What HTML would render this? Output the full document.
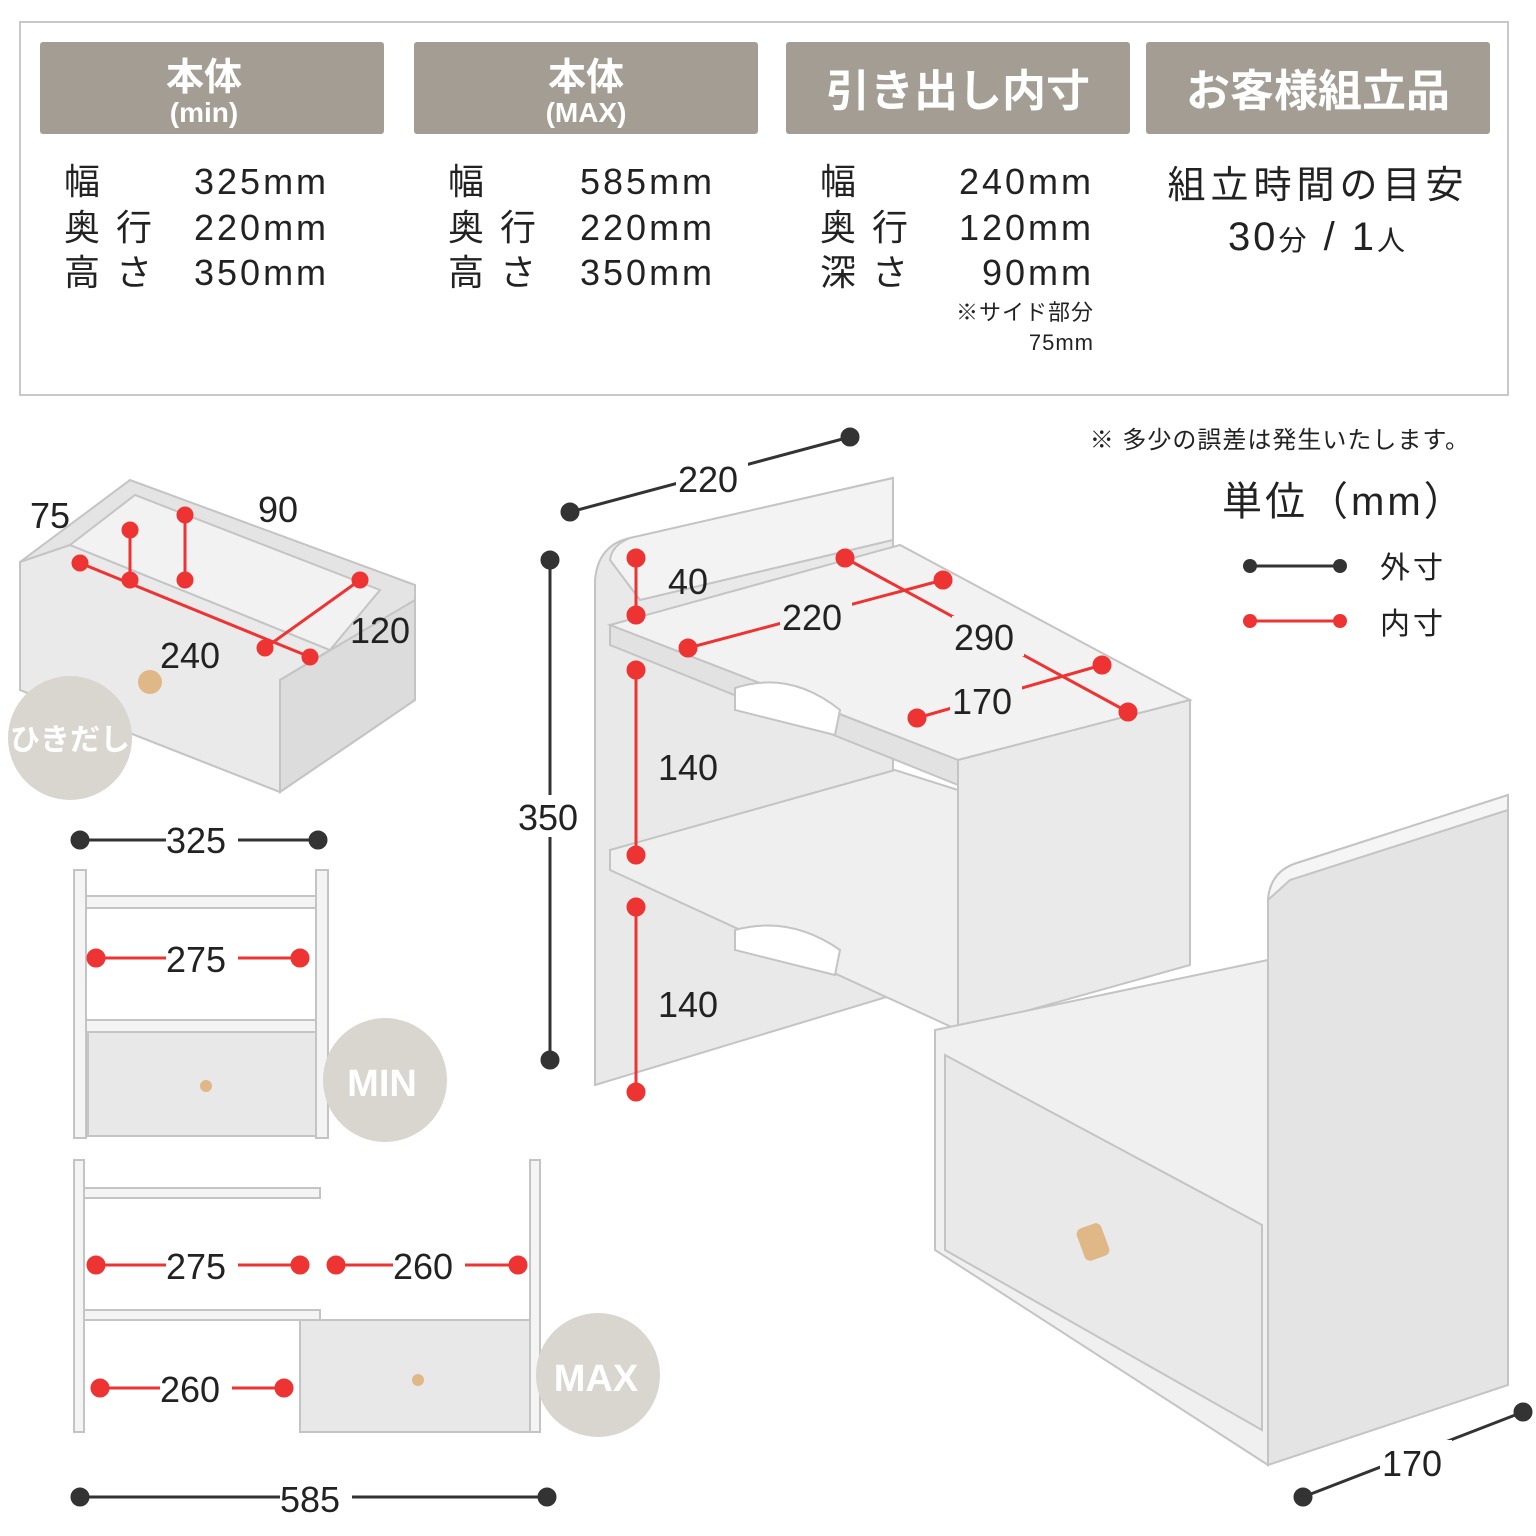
<!DOCTYPE html>
<html><head><meta charset="utf-8"><style>
body{margin:0;background:#fff}
svg{display:block}
text{font-family:"Liberation Sans","Noto Sans CJK JP",sans-serif}
</style></head><body>
<svg width="1536" height="1536" viewBox="0 0 1536 1536" xmlns="http://www.w3.org/2000/svg">
<rect x="20" y="22" width="1488" height="373" fill="#fff" stroke="#c8c8c8" stroke-width="2"/>
<g fill="#a39d94">
<rect x="40" y="42" width="344" height="92" rx="3"/>
<rect x="414" y="42" width="344" height="92" rx="3"/>
<rect x="786" y="42" width="344" height="92" rx="3"/>
<rect x="1146" y="42" width="344" height="92" rx="3"/>
</g>
<g fill="#fff" font-weight="bold" text-anchor="middle">
<text x="204" y="90" font-size="38">本体</text>
<text x="204" y="122" font-size="28">(min)</text>
<text x="586" y="90" font-size="38">本体</text>
<text x="586" y="122" font-size="28">(MAX)</text>
<text x="958" y="106" font-size="44">引き出し内寸</text>
<text x="1318" y="106" font-size="44">お客様組立品</text>
</g>
<g fill="#222" font-size="36" letter-spacing="3">
<text x="64" y="194">幅</text><text x="64" y="240">奥 行</text><text x="64" y="285">高 さ</text>
<text x="194" y="194">325mm</text><text x="194" y="240">220mm</text><text x="194" y="285">350mm</text>
<text x="448" y="194">幅</text><text x="448" y="240">奥 行</text><text x="448" y="285">高 さ</text>
<text x="580" y="194">585mm</text><text x="580" y="240">220mm</text><text x="580" y="285">350mm</text>
<text x="820" y="194">幅</text><text x="820" y="240">奥 行</text><text x="820" y="285">深 さ</text>
<text x="1094" y="194" text-anchor="end">240mm</text><text x="1094" y="240" text-anchor="end">120mm</text><text x="1094" y="285" text-anchor="end">90mm</text>
<text x="1094" y="320" text-anchor="end" font-size="22" letter-spacing="1">※サイド部分</text>
<text x="1094" y="350" text-anchor="end" font-size="22" letter-spacing="1">75mm</text>
<text x="1318" y="198" text-anchor="middle" font-size="38" letter-spacing="5">組立時間の目安</text>
<text x="1318" y="250" text-anchor="middle" font-size="40">30<tspan font-size="28">分</tspan> / 1<tspan font-size="28">人</tspan></text>
<text x="1470" y="448" text-anchor="end" font-size="24" letter-spacing="1">※ 多少の誤差は発生いたします。</text>
<text x="1222" y="515" font-size="40">単位（mm）</text>
<text x="1380" y="578" font-size="30">外寸</text>
<text x="1380" y="634" font-size="30">内寸</text>
</g>
<line x1="1250" y1="566" x2="1340" y2="566" stroke="#333" stroke-width="3"/>
<circle cx="1250" cy="566" r="7" fill="#333"/><circle cx="1340" cy="566" r="7" fill="#333"/>
<line x1="1250" y1="621" x2="1340" y2="621" stroke="#e33" stroke-width="3"/>
<circle cx="1250" cy="621" r="7" fill="#e33"/><circle cx="1340" cy="621" r="7" fill="#e33"/>

<!-- drawer small -->
<g stroke="#c4c4c4" stroke-width="2">
<polygon points="20,562 130,480 415,585 415,700 280,792 20,690" fill="#e4e4e4"/>
<polygon points="20,562 70,545 330,650 280,680 280,792 20,690" fill="#eaeaea"/>
<polygon points="280,680 415,600 415,700 280,792" fill="#dcdcdc"/>
<polygon points="70,545 135,495 380,590 330,650" fill="#f2f2f2"/>
</g>
<circle cx="150" cy="682" r="12" fill="#e0b888"/>
<circle cx="70" cy="738" r="62" fill="#d9d5cf"/>
<text x="70" y="750" fill="#fff" font-size="30" font-weight="bold" text-anchor="middle">ひきだし</text>
<g stroke="#e33" stroke-width="3" fill="#e33">
<line x1="80" y1="563" x2="310" y2="657"/><line x1="130" y1="530" x2="130" y2="580"/><line x1="185" y1="515" x2="185" y2="580"/><line x1="265" y1="648" x2="360" y2="580"/>
<circle cx="80" cy="563" r="7"/><circle cx="310" cy="657" r="7"/><circle cx="130" cy="530" r="7"/><circle cx="130" cy="580" r="7"/><circle cx="185" cy="515" r="7"/><circle cx="185" cy="580" r="7"/><circle cx="265" cy="648" r="7"/><circle cx="360" cy="580" r="7"/>
</g>
<g font-size="36" fill="#222"><text x="30" y="528">75</text><text x="258" y="522">90</text><text x="350" y="643">120</text><text x="160" y="668">240</text></g>

<!-- MIN view -->
<g fill="#f4f4f4" stroke="#c4c4c4" stroke-width="2">
<rect x="74" y="870" width="12" height="268"/><rect x="316" y="870" width="12" height="268"/>
<rect x="86" y="896" width="230" height="12"/><rect x="86" y="1020" width="230" height="12"/>
<rect x="88" y="1032" width="228" height="104" fill="#e8e8e8"/>
</g>
<circle cx="206" cy="1086" r="6" fill="#e0b888"/>
<circle cx="385" cy="1080" r="62" fill="#d9d5cf"/>
<text x="382" y="1096" fill="#fff" font-size="38" font-weight="bold" text-anchor="middle">MIN</text>
<!-- MAX view -->
<g fill="#f4f4f4" stroke="#c4c4c4" stroke-width="2">
<rect x="74" y="1160" width="10" height="272"/><rect x="530" y="1160" width="10" height="272"/>
<rect x="84" y="1188" width="236" height="10"/><rect x="84" y="1310" width="236" height="10"/>
<rect x="300" y="1320" width="230" height="112" fill="#e8e8e8"/>
</g>
<circle cx="418" cy="1380" r="6" fill="#e0b888"/>
<circle cx="598" cy="1375" r="62" fill="#d9d5cf"/>
<text x="596" y="1391" fill="#fff" font-size="38" font-weight="bold" text-anchor="middle">MAX</text>
<g stroke="#e33" stroke-width="3" fill="#e33">
<line x1="96" y1="958" x2="300" y2="958"/><circle cx="96" cy="958" r="8"/><circle cx="300" cy="958" r="8"/>
<line x1="96" y1="1265" x2="300" y2="1265"/><circle cx="96" cy="1265" r="8"/><circle cx="300" cy="1265" r="8"/>
<line x1="336" y1="1265" x2="518" y2="1265"/><circle cx="336" cy="1265" r="8"/><circle cx="518" cy="1265" r="8"/>
<line x1="100" y1="1388" x2="284" y2="1388"/><circle cx="100" cy="1388" r="8"/><circle cx="284" cy="1388" r="8"/>
</g>
<g stroke="#333" stroke-width="3" fill="#333">
<line x1="80" y1="840" x2="318" y2="840"/><circle cx="80" cy="840" r="8"/><circle cx="318" cy="840" r="8"/>
<line x1="80" y1="1497" x2="547" y2="1497"/><circle cx="80" cy="1497" r="8"/><circle cx="547" cy="1497" r="8"/>
<line x1="570" y1="512" x2="850" y2="437"/><circle cx="570" cy="512" r="8"/><circle cx="850" cy="437" r="8"/>
<line x1="550" y1="560" x2="550" y2="1060"/><circle cx="550" cy="560" r="8"/><circle cx="550" cy="1060" r="8"/>
<line x1="1303" y1="1497" x2="1523" y2="1412"/><circle cx="1303" cy="1497" r="8"/><circle cx="1523" cy="1412" r="8"/>
</g>
<g font-size="36" fill="#222">
<rect x="166" y="818" width="72" height="40" fill="#fff"/><text x="166" y="853">325</text>
<rect x="166" y="938" width="72" height="40" fill="#fff"/><text x="166" y="972">275</text>
<rect x="166" y="1245" width="72" height="40" fill="#fff"/><text x="166" y="1279">275</text>
<rect x="393" y="1245" width="72" height="40" fill="#fff"/><text x="393" y="1279">260</text>
<rect x="160" y="1368" width="72" height="40" fill="#fff"/><text x="160" y="1402">260</text>
<rect x="280" y="1476" width="72" height="42" fill="#fff"/><text x="280" y="1512">585</text>
<rect x="676" y="458" width="72" height="42" fill="#fff"/><text x="678" y="492">220</text>
<rect x="518" y="795" width="70" height="42" fill="#fff"/><text x="518" y="830">350</text>
<rect x="1380" y="1440" width="72" height="42" fill="#fff"/><text x="1382" y="1476">170</text>
</g>

<!-- main shelf -->
<g stroke="#c4c4c4" stroke-width="2">
<path d="M595,1085 L595,580 Q598,545 630,538 L893,478 L893,995 Z" fill="#e9e9e9"/>
<path d="M610,560 Q612,545 630,538 L893,478 L893,540 L640,600 Z" fill="#f3f3f3"/>
<polygon points="610,625 900,545 1190,700 958,760" fill="#f2f2f2"/>
<polygon points="610,625 958,760 958,785 610,645" fill="#e2e2e2"/>
<polygon points="610,850 895,770 958,790 958,1030 610,870" fill="#efefef"/>
<polygon points="958,760 1190,700 1190,965 958,1030" fill="#eaeaea"/>
<path d="M735,688 Q790,670 840,710 L835,735 L735,710 Z" fill="#fff"/>
<path d="M735,930 Q790,915 840,950 L835,975 L735,950 Z" fill="#fff"/>
<polygon points="935,1030 1268,960 1268,1465 935,1250" fill="#f0f0f0"/>
<polygon points="945,1055 1262,1225 1262,1430 945,1250" fill="#e9e9e9"/>
<path d="M1268,1465 L1268,900 Q1270,870 1300,862 L1508,795 L1508,1385 Z" fill="#e4e4e4"/>
<path d="M1268,900 Q1270,870 1300,862 L1508,795 L1508,810 L1290,880 Z" fill="#f5f5f5"/>
</g>
<rect x="1080" y="1225" width="26" height="34" rx="6" fill="#e0b888" transform="rotate(-20 1093 1242)"/>
<g stroke="#e33" stroke-width="3" fill="#e33">
<line x1="636" y1="558" x2="636" y2="615"/><circle cx="636" cy="558" r="8"/><circle cx="636" cy="615" r="8"/>
<line x1="636" y1="670" x2="636" y2="855"/><circle cx="636" cy="670" r="8"/><circle cx="636" cy="855" r="8"/>
<line x1="636" y1="907" x2="636" y2="1092"/><circle cx="636" cy="907" r="8"/><circle cx="636" cy="1092" r="8"/>
<line x1="688" y1="648" x2="943" y2="580"/><circle cx="688" cy="648" r="8"/><circle cx="943" cy="580" r="8"/>
<line x1="845" y1="558" x2="1128" y2="712"/><circle cx="845" cy="558" r="8"/><circle cx="1128" cy="712" r="8"/>
<line x1="917" y1="718" x2="1102" y2="665"/><circle cx="917" cy="718" r="8"/><circle cx="1102" cy="665" r="8"/>
</g>
<g font-size="36" fill="#222">
<text x="668" y="594">40</text>
<rect x="780" y="596" width="72" height="40" fill="#f2f2f2"/><text x="782" y="630">220</text>
<rect x="952" y="616" width="72" height="40" fill="#f2f2f2"/><text x="954" y="650">290</text>
<rect x="950" y="680" width="72" height="40" fill="#f2f2f2"/><text x="952" y="714">170</text>
<text x="658" y="780">140</text>
<text x="658" y="1017">140</text>
</g>
</svg>
</body></html>
